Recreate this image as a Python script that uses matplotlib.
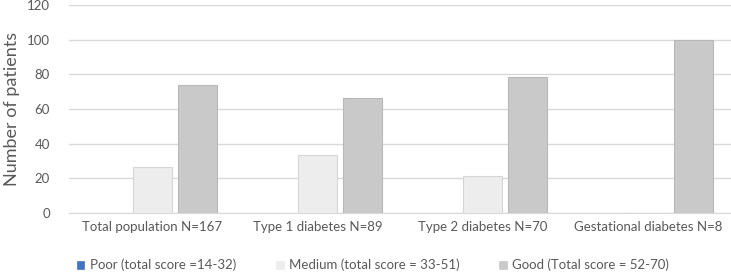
import matplotlib
matplotlib.use('Agg')
import matplotlib.pyplot as plt
from matplotlib.patches import Patch
import numpy as np

categories = ['Total population N=167', 'Type 1 diabetes N=89',
              'Type 2 diabetes N=70', 'Gestational diabetes N=8']
series_names = ['Poor (total score =14-32)', 'Medium (total score = 33-51)',
                'Good (Total score = 52-70)']
poor = [0, 0, 0, 0]
medium = [26.3, 33.7, 21.4, 0]
good = [73.7, 66.3, 78.6, 100]
yticks = [0, 20, 40, 60, 80, 100, 120]

colors = ['#4472C4', '#EDEDED', '#C9C9C9']
edges = ['#4472C4', '#D6D6D6', '#B8B8B8']
line_w = [0, 0.8, 0.8]
text_color = '#595959'

plt.rcParams['font.family'] = ['Lato', 'DejaVu Sans']

fig = plt.figure(figsize=(7.31, 2.72), dpi=100)
ax = fig.add_axes([0.095, 0.217, 0.905, 0.765])

x = np.arange(len(categories))
width = 0.236
offsets = [-0.272, 0, 0.272]
for vals, off, c, ec, lw in zip([poor, medium, good], offsets, colors, edges, line_w):
    ax.bar(x + off, vals, width, color=c, edgecolor=ec, linewidth=lw, zorder=3)

ax.set_xlim(-0.5, 3.5)
ax.set_ylim(0, 120)
ax.set_yticks(yticks)
ax.set_xticks(x)
ax.set_xticklabels(categories, fontsize=9.5, color=text_color)
ax.tick_params(axis='y', labelsize=9.5, labelcolor=text_color, length=0, pad=14)
ax.tick_params(axis='x', length=0, pad=6)
ax.grid(axis='y', color='#D9D9D9', linewidth=1, zorder=0)
for s in ['top', 'right', 'left']:
    ax.spines[s].set_visible(False)
ax.spines['bottom'].set_color('#D9D9D9')
ax.set_ylabel('Number of patients', fontsize=13, color=text_color, labelpad=5)

handles = [Patch(facecolor=c, edgecolor=c, linewidth=0.5) for c in colors]
leg = fig.legend(handles, series_names, loc='center', bbox_to_anchor=(0.51, 0.025),
                 ncol=3, frameon=False, fontsize=9.5, handlelength=0.6,
                 handleheight=0.6, handletextpad=0.4, columnspacing=3.0)
for t in leg.get_texts():
    t.set_color(text_color)

fig.savefig('out.png', dpi=100)
